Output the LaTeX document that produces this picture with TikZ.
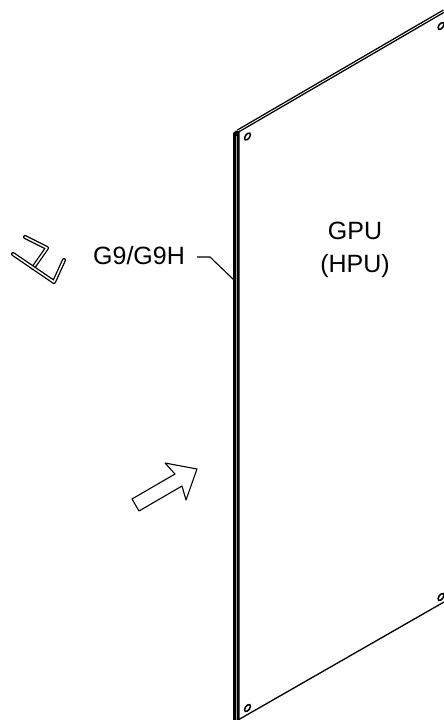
\documentclass[tikz,border=0pt]{standalone}
\usepackage{fontspec}
\setmainfont{Liberation Sans}
\tikzset{
  lbl/.style={font=\fontsize{25}{33}\selectfont, align=center, inner sep=0pt, text=black},
  thin line/.style={draw=black, line width=1.1pt, line join=round},
  dbl/.style={draw=black, line width=1.3pt, line cap=round, line join=round, double=white, double distance=1.5pt},
  dbledge/.style={draw=black, double=white, line width=1.4pt, double distance=0.8pt}
}
\begin{document}
\begin{tikzpicture}[x=1pt,y=-1pt]
\useasboundingbox (0,0) rectangle (444,720);
% panel
\draw[dbledge] (238,131) -- (444,11);
\draw[thin line, line width=1.3pt] (238,720) -- (444,602);
\fill[black] (233,133) -- (236,130.5) -- (239.7,131) -- (239.7,720) -- (233,720) -- cycle;
\fill[black!35] (235.7,136) rectangle (236.8,720);
% holes
\foreach \p in {(247.5,136.5),(441,26),(247.5,708),(441,597)}{
  \draw[black, line width=1.5pt, rotate around={55:\p}] \p ellipse (4pt and 2.2pt);
}
% labels
\node[lbl] (gpu) at (355,250) {GPU\\(HPU)};
\node[lbl] (g9) at (139,256) {G9/G9H};
\coordinate (bend) at (210,257);
\coordinate (edge) at (234,280);
\coordinate (start) at (197,257);
\draw[thin line] (start) -- (bend) -- (edge);
% bracket
\draw[dbl] (25,237) -- (47,248) -- (33,268);
\draw[dbl] (13,254) -- (54,282) -- (64,260);
% arrow
\draw[thin line] (132,499) -- (139,511) -- (182,486) -- (186,500) -- (197,469) -- (165,463) -- (175,474) -- cycle;
\end{tikzpicture}
\end{document}
